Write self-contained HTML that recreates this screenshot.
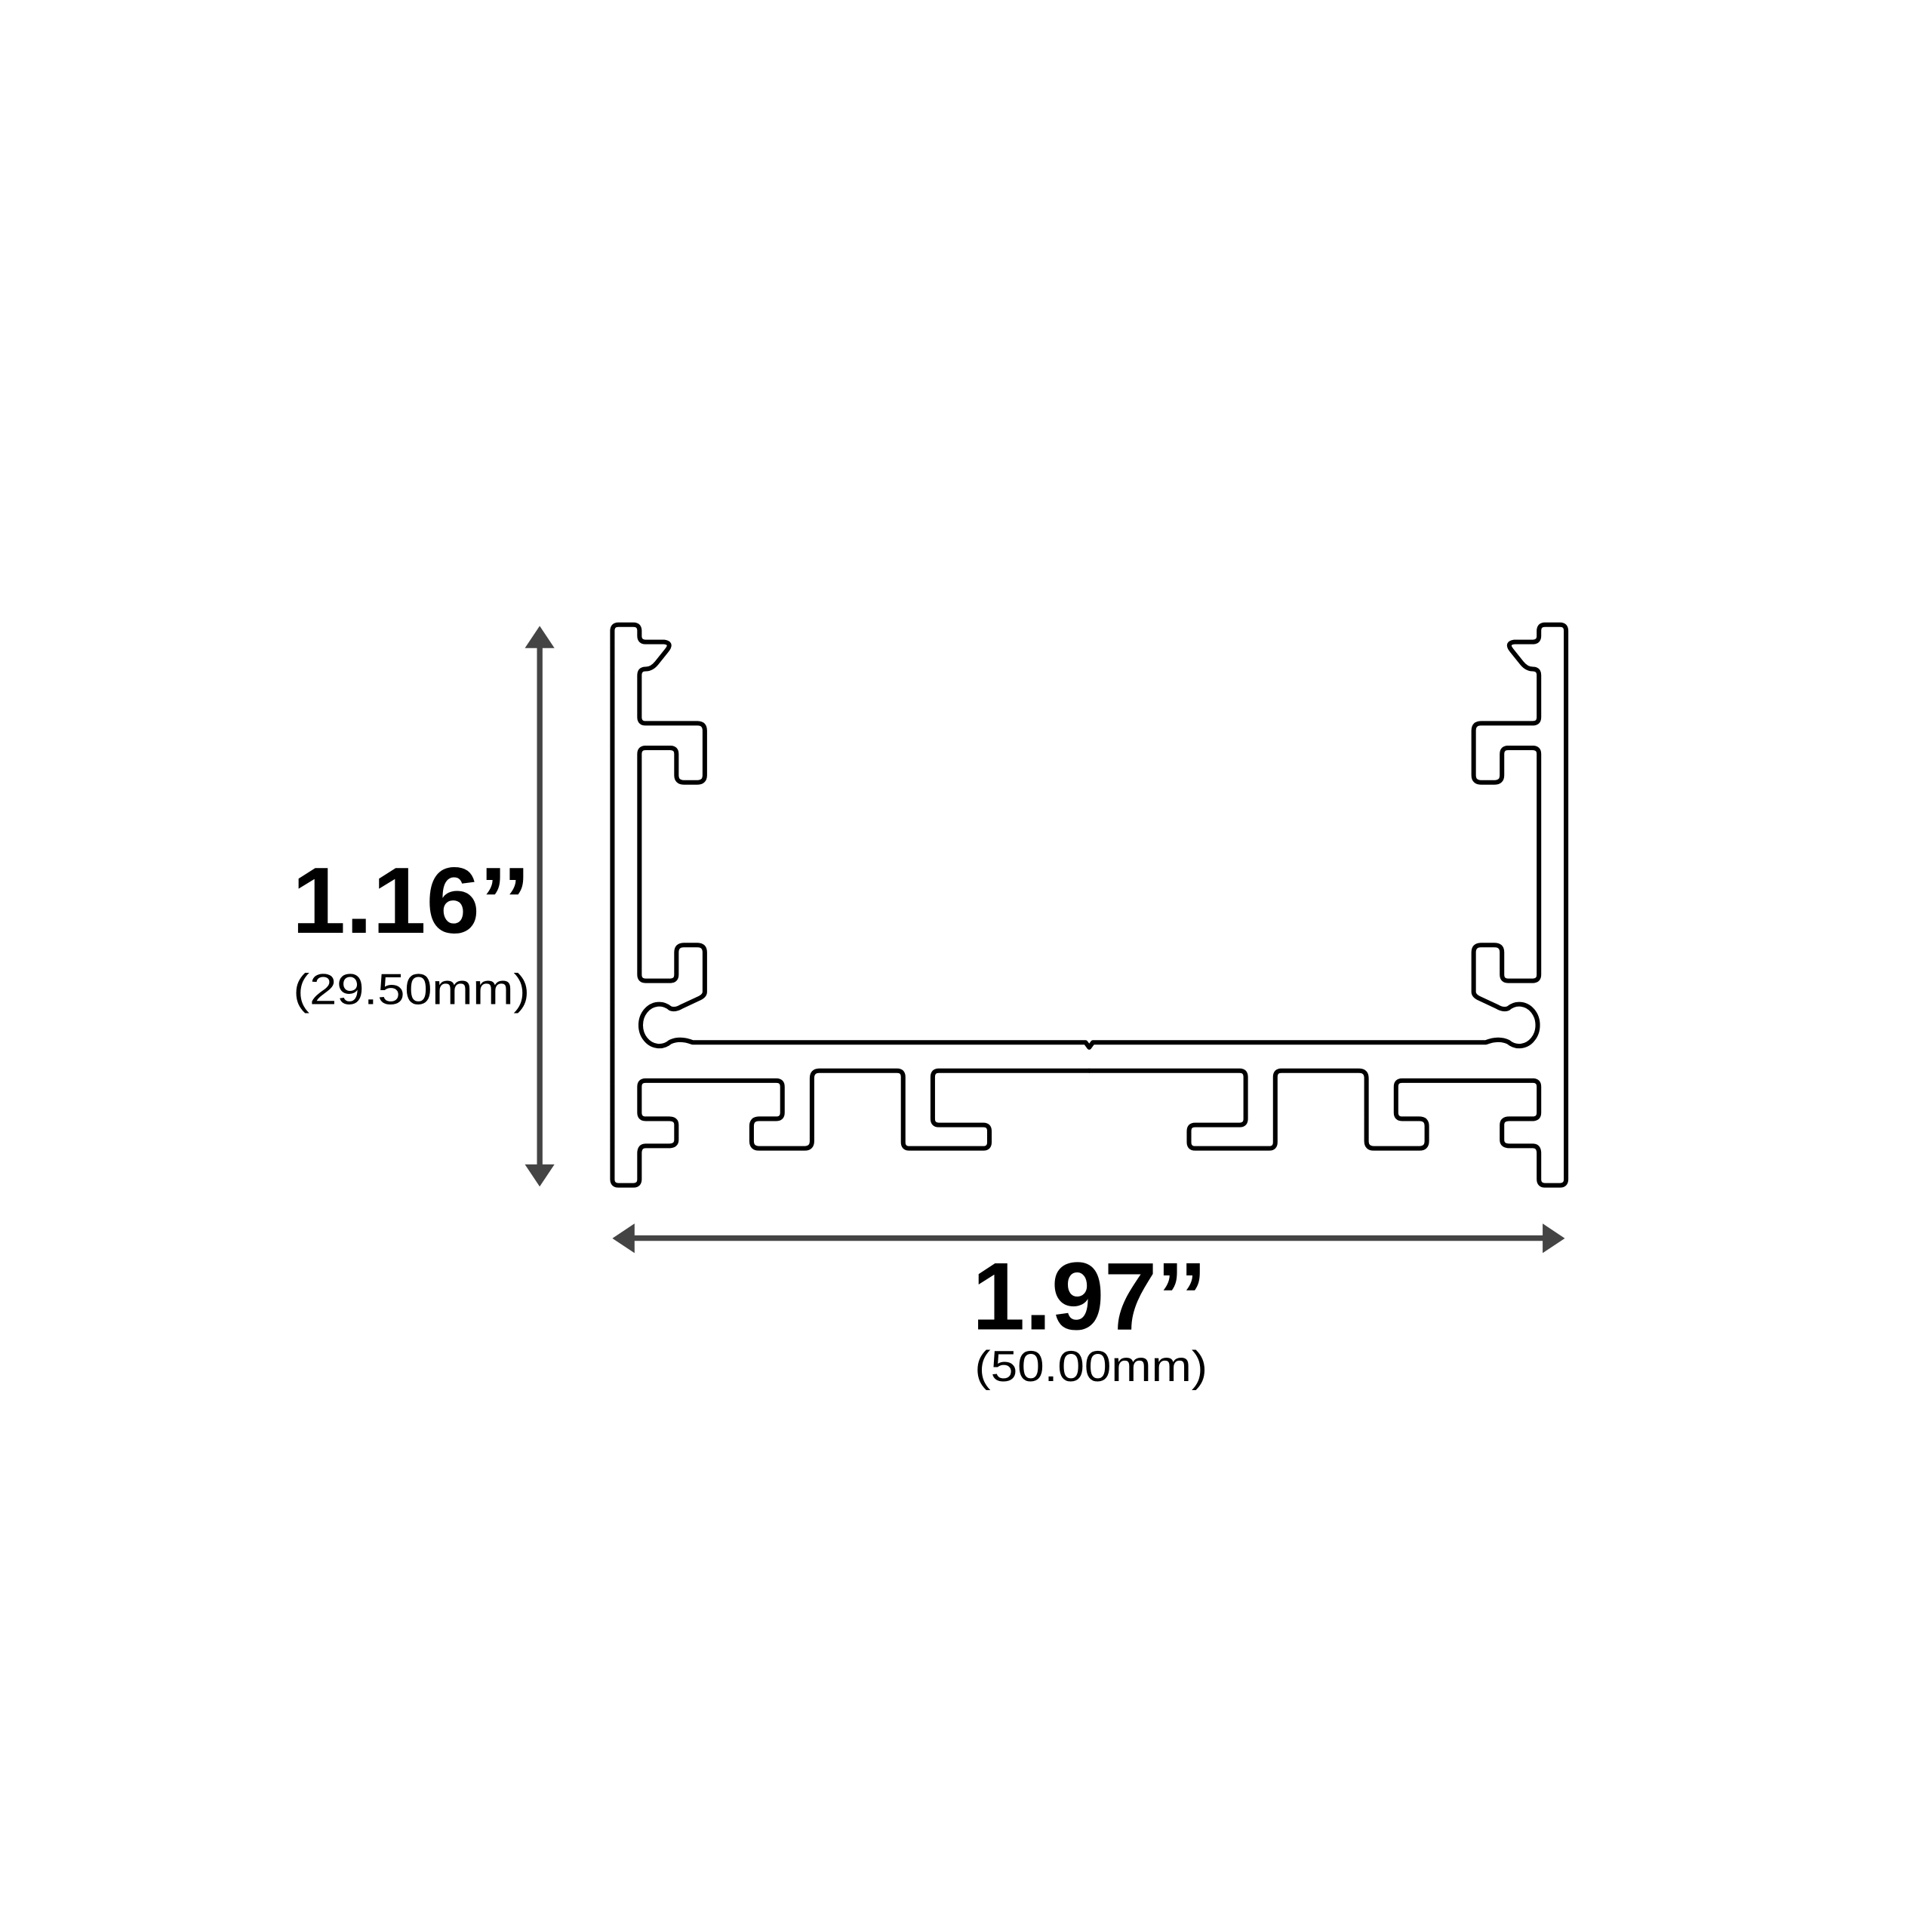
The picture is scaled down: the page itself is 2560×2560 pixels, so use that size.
<!DOCTYPE html>
<html><head><meta charset="utf-8"><style>html,body{margin:0;padding:0;background:#fff}svg{display:block}</style></head>
<body>
<svg width="2560" height="2560" viewBox="0 0 1568 1568" xmlns="http://www.w3.org/2000/svg">
<rect width="1568" height="1568" fill="#fff"/>
<g fill="none" stroke="#000" stroke-width="3.7" stroke-linejoin="round" stroke-linecap="round">
<path id="half" d="M884,869 L762,869 Q757,869 757,874 L757,908 Q757,913 762,913 L798,913 Q803,913 803,918 L803,927 Q803,932 798,932 L738,932 Q733,932 733,927 L733,874 Q733,869 728,869 L665,869 Q659,869 659,875 L659,926 Q659,932 653,932 L616,932 Q610,932 610,926 L610,914 Q610,908 616,908 L630,908 Q635,908 635,903 L635,882 Q635,877 630,877 L524,877 Q519,877 519,882 L519,903 Q519,908 524,908 L543,908 Q549,908 549,913 L549,925 Q549,930 543,930 L524,930 Q519,930 519,936 L519,957 Q519,962 514,962 L502,962 Q497,962 497,957 L497,512 Q497,507 502,507 L514,507 Q519,507 519,512 L519,516 Q519,521 524,521 L539,521 Q546,522 541,528 L533,538 Q529,543 524,543 Q519,543 519,548 L519,582 Q519,587 524,587 L566,587 Q572,587 572,593 L572,629 Q572,635 566,635 L555,635 Q549,635 549,629 L549,612 Q549,607 544,607 L524,607 Q519,607 519,612 L519,791 Q519,796 524,796 L544,796 Q549,796 549,791 L549,773 Q549,767 555,767 L566,767 Q572,767 572,773 L572,805 Q572,808 568,810 L553,817 Q548,820 544,818.4 A15,17 0 1 0 544,845.6 Q552,842 562,846 L881,846 L884,850"/>
<use href="#half" transform="matrix(-1 0 0 1 1768 0)"/>
</g>
<g fill="#444" stroke="none">
<rect x="435.8" y="522" width="4.5" height="428"/>
<polygon points="438,508 450,526 426,526"/>
<polygon points="438,963 450,945 426,945"/>
<rect x="510" y="1002.6" width="748" height="4.5"/>
<polygon points="497,1005 515,993 515,1017"/>
<polygon points="1270,1005 1252,993 1252,1017"/>
</g>
<g font-family="Liberation Sans, Arial, sans-serif" fill="#000">
<text x="237" y="757" font-size="76" font-weight="bold" textLength="193" lengthAdjust="spacingAndGlyphs">1.16’’</text>
<text x="238" y="815" font-size="35" textLength="192" lengthAdjust="spacingAndGlyphs">(29.50mm)</text>
<text x="789" y="1079" font-size="78" font-weight="bold" textLength="190" lengthAdjust="spacingAndGlyphs">1.97’’</text>
<text x="791" y="1121" font-size="35" textLength="189" lengthAdjust="spacingAndGlyphs">(50.00mm)</text>
</g>
</svg>
</body></html>
